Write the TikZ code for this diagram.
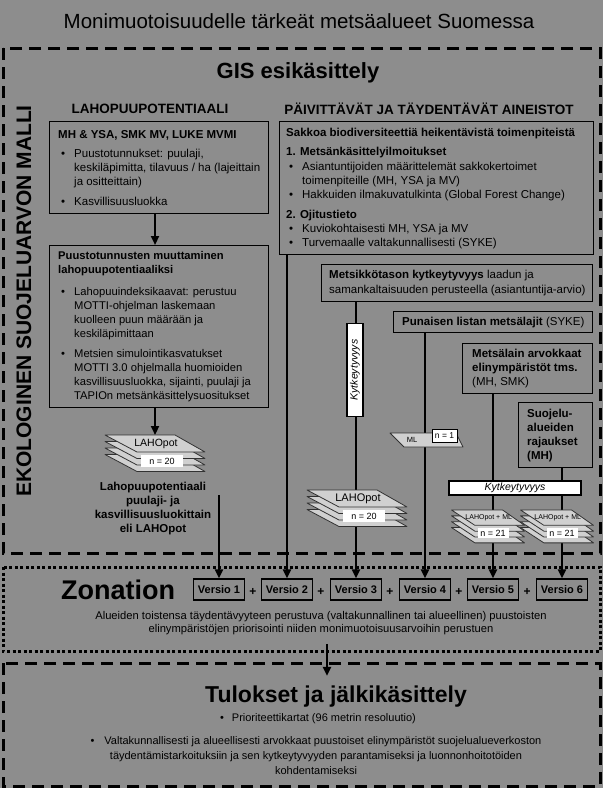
\documentclass[tikz,border=0pt]{standalone}
\usepackage{fontspec}
\setmainfont{Liberation Sans}
\usetikzlibrary{arrows.meta}

\definecolor{tausta}{RGB}{141,141,141}
\definecolor{kerrosvari}{RGB}{208,208,208}
\definecolor{reuna}{RGB}{50,50,50}

\newcommand{\koko}[2]{\fontsize{#1}{#2}\selectfont}
\newcommand{\kohta}{\hspace*{3pt}\makebox[13pt][l]{\textbullet}}
\newcommand{\jatko}{\hspace*{16pt}}

% pino: x, y, xscale, yscale, ylin teksti, n-teksti, nimi, n-tyyli
\newcommand{\pino}[8]{%
  \begin{scope}[shift={(#1,#2)},xscale=#3,yscale=#4]
    \foreach \k in {3,2,1,0}
      \filldraw[kerros] (-50,6.5*\k) -- (20,6.5*\k) -- (50,6.5*\k+17) -- (-18,6.5*\k+17) -- cycle;
  \end{scope}
  \coordinate (#7) at (#1,#2);
  \node[nlappu,#8] (#7-n) at (#1+7*#3,#2+26*#4) {#6};
  \node[inner sep=0pt] (#7-t) at (#1+#3,#2+9*#4) {#5};
}

\begin{document}
\begin{tikzpicture}[x=1pt,y=-1pt,
  laatikko/.style={draw=black,line width=1.2pt,anchor=north west,inner sep=0pt},
  sisalto/.style={anchor=west,align=left,inner sep=0pt,font=\koko{11.5}{14}},
  katko/.style={line width=3pt,dash pattern=on 12pt off 7pt},
  pisteet/.style={line width=3pt,dash pattern=on 3pt off 2.5pt},
  nuoli/.style={line width=2.4pt,-{Triangle[length=9pt,width=8pt]}},
  versio/.style={draw=black,line width=1.2pt,minimum width=51pt,minimum height=21pt,inner sep=0pt,font=\koko{11}{13}\bfseries},
  kerros/.style={fill=kerrosvari,draw=reuna,line width=0.8pt,line join=round},
  nlappu/.style={fill=white,inner sep=0pt,minimum width=42pt,minimum height=12pt,font=\koko{9}{10}},
  kytkos/.style={fill=white,draw=black,line width=1.2pt,inner sep=0pt,font=\koko{10.5}{12}\itshape}]

\fill[tausta,use as bounding box] (0,0) rectangle (603,788);

% kehykset
\draw[katko] (3,48) rectangle (600,553);
\draw[pisteet] (3,567) rectangle (600,651);
\draw[katko] (3,663) rectangle (600,786);

% otsikot
\node[font=\koko{20.5}{24}] (otsikko) at (299,21) {Monimuotoisuudelle tärkeät metsäalueet Suomessa};
\node[font=\koko{22}{26}\bfseries] (gis) at (298,73) {GIS esikäsittely};
\node[font=\koko{21}{24}\bfseries,rotate=90] (malli) at (24,301) {EKOLOGINEN SUOJELUARVON MALLI};
\node[font=\koko{13.5}{16}\bfseries] (lahohdr) at (150,109) {LAHOPUUPOTENTIAALI};
\node[font=\koko{13.5}{16}\bfseries] (paivhdr) at (429,109) {PÄIVITTÄVÄT JA TÄYDENTÄVÄT AINEISTOT};

% laatikot
\node[laatikko,minimum width=219pt,minimum height=92pt] (A) at (49,121) {};
\node[sisalto] (A-txt) at ([xshift=9pt]A.west) {%
\textbf{MH \& YSA, SMK MV, LUKE MVMI}\\[5pt]
\kohta Puustotunnukset: puulaji,\\
\jatko keskiläpimitta, tilavuus / ha (lajeittain\\
\jatko ja ositteittain)\\[6pt]
\kohta Kasvillisuusluokka};

\node[laatikko,minimum width=314pt,minimum height=133pt] (B) at (279,121) {};
\node[sisalto] (B-txt) at ([xshift=7pt]B.west) {%
\textbf{Sakkoa biodiversiteettiä heikentävistä toimenpiteistä}\\[5pt]
\textbf{1. Metsänkäsittelyilmoitukset}\\[1pt]
\kohta Asiantuntijoiden määrittelemät sakkokertoimet\\
\jatko toimenpiteille (MH, YSA ja MV)\\
\kohta Hakkuiden ilmakuvatulkinta (Global Forest Change)\\[6pt]
\textbf{2. Ojitustieto}\\
\kohta Kuviokohtaisesti MH, YSA ja MV\\
\kohta Turvemaalle valtakunnallisesti (SYKE)};

\node[laatikko,minimum width=219pt,minimum height=162pt] (C) at (49,245) {};
\node[sisalto,font=\koko{11.2}{14}] (C-txt) at ([xshift=9pt]C.west) {%
\textbf{Puustotunnusten muuttaminen}\\
\textbf{lahopuupotentiaaliksi}\\[8pt]
\kohta Lahopuuindeksikaavat: perustuu\\
\jatko MOTTI-ohjelman laskemaan\\
\jatko kuolleen puun määrään ja\\
\jatko keskiläpimittaan\\[6pt]
\kohta Metsien simulointikasvatukset\\
\jatko MOTTI 3.0 ohjelmalla huomioiden\\
\jatko kasvillisuusluokka, sijainti, puulaji ja\\
\jatko TAPIOn metsänkäsittelysuositukset};

\node[laatikko,minimum width=271pt,minimum height=37pt] (D) at (321,264) {};
\node[sisalto,font=\koko{11.5}{15}] (D-txt) at ([xshift=8pt]D.west) {%
\textbf{Metsikkötason kytkeytyvyys} laadun ja\\
samankaltaisuuden perusteella (asiantuntija-arvio)};

\node[laatikko,minimum width=199pt,minimum height=21pt] (E) at (393,311) {};
\node[sisalto] (E-txt) at ([xshift=9pt]E.west) {%
\textbf{Punaisen listan metsälajit} (SYKE)};

\node[laatikko,minimum width=130pt,minimum height=50pt] (F) at (462,343) {};
\node[sisalto] (F-txt) at ([xshift=10pt]F.west) {%
\textbf{Metsälain arvokkaat}\\
\textbf{elinympäristöt tms.}\\
(MH, SMK)};

\node[laatikko,minimum width=74pt,minimum height=65pt] (G) at (518,402) {};
\node[sisalto] (G-txt) at ([xshift=9pt]G.west) {%
\textbf{Suojelu-}\\
\textbf{alueiden}\\
\textbf{rajaukset}\\
\textbf{(MH)}};

% Zonation
\node[font=\koko{27}{30}\bfseries] (zonation) at (118,590) {Zonation};
\foreach \i/\x in {1/219,2/287,3/356,4/425,5/493,6/562}
  \node[versio] (V\i) at (\x,589.5) {Versio \i};
\foreach \i/\x in {1/253,2/321,3/390,4/459,5/527}
  \node[font=\koko{12}{14}\bfseries] (plus\i) at (\x,592) {+};
\node[font=\koko{11.2}{13},align=center] (kuvaus) at (321,623.5) {%
Alueiden toistensa täydentävyyteen perustuva (valtakunnallinen tai alueellinen) puustoisten\\
elinympäristöjen priorisointi niiden monimuotoisuusarvoihin perustuen};

% Tulokset
\node[font=\koko{23}{26}\bfseries,anchor=base] (tulokset) at (336,702) {Tulokset ja jälkikäsittely};
\node[font=\koko{11}{14}] (tulos1) at (318,719) {\textbullet\hspace{8pt}Prioriteettikartat (96 metrin resoluutio)};
\node[font=\koko{11}{15},align=center] (tulos2) at (316,756) {%
\textbullet\hspace{10pt}Valtakunnallisesti ja alueellisesti arvokkaat puustoiset elinympäristöt suojelualueverkoston\\
täydentämistarkoituksiin ja sen kytkeytyvyyden parantamiseksi ja luonnonhoitotöiden\\
kohdentamiseksi};

\node[font=\koko{11.5}{14.3}\bfseries,align=center] (lahoteksti) at (153,508.5) {%
Lahopuupotentiaali\\puulaji- ja\\kasvillisuusluokittain\\eli LAHOpot};

% yhteydet
\coordinate (pino1) at (155,435);
\coordinate (v1alku) at (219,495);
\draw[nuoli] (A.south -| pino1) -- (C.north -| pino1);
\draw[nuoli] (C.south -| pino1) -- (pino1);
\draw[nuoli] (v1alku) -- (v1alku |- V1.north);
\draw[nuoli] (B.south -| V2) -- (V2.north);
\draw[nuoli] (D.south -| V3) -- (V3.north);
\draw[nuoli] (E.south -| V4) -- (V4.north);
\draw[nuoli] (F.south -| V5) -- (V5.north);
\draw[nuoli] (G.south -| V6) -- (V6.north);
\draw[nuoli] ([xshift=6pt,yshift=-5pt]kuvaus.south) -- ([xshift=6pt,yshift=6pt]kuvaus.south |- tulokset.north);

% pinot ja merkinnat
\pino{155}{435}{1}{1}{\koko{10.5}{12}LAHOpot}{n = 20}{lahopot1}{}
\pino{357}{490}{1}{1}{\koko{11}{12}LAHOpot}{n = 20}{lahopot2}{}
\pino{488}{510}{0.73}{0.9}{\koko{7}{8}LAHOpot + ML}{n = 21}{lahoml1}{minimum width=31pt,minimum height=10pt}
\pino{557}{510}{0.73}{0.9}{\koko{7}{8}LAHOpot + ML}{n = 21}{lahoml2}{minimum width=31pt,minimum height=10pt}

\filldraw[kerros] (390,433) -- (456,433) -- (463,447) -- (404,447) -- cycle;
\node[font=\koko{7.5}{9}] (ml) at (412,440) {ML};
\node[nlappu,draw=black,line width=1pt,minimum width=25pt,minimum height=13pt,font=\koko{8.5}{10}] (ml-n) at (444.5,435.5) {n = 1};

\node[kytkos,rotate=90,minimum width=93pt,minimum height=16pt] (kytk1) at (355,370) {Kytkeytyvyys};
\node[kytkos,minimum width=132pt,minimum height=14pt] (kytk2) at (515,488) {Kytkeytyvyys};
\end{tikzpicture}
\end{document}
